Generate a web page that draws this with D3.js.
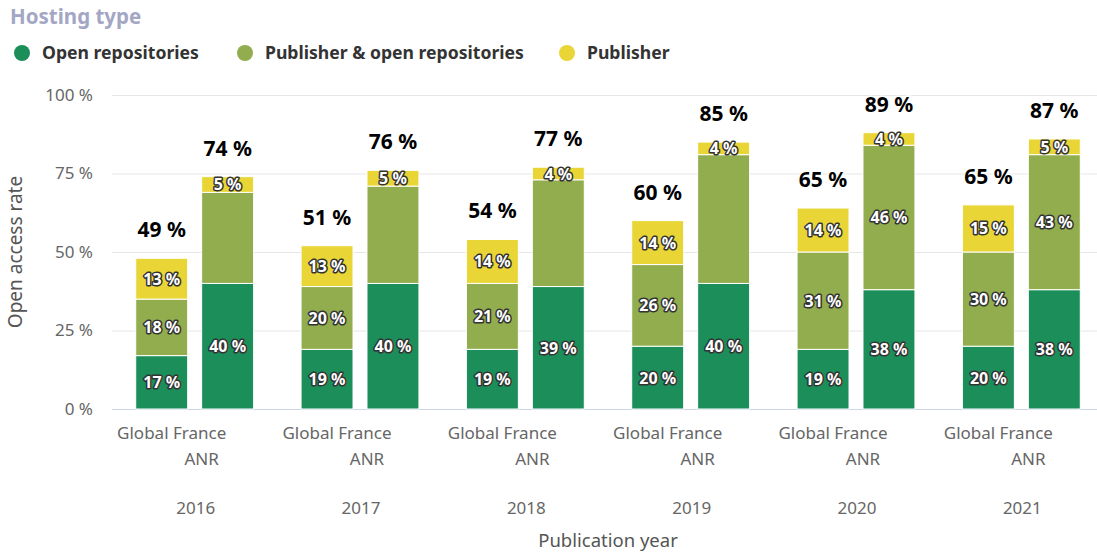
<!DOCTYPE html>
<html>
<head>
<meta charset="utf-8">
<script src="https://cdn.jsdelivr.net/npm/d3@7"></script>
<style>
  body { margin: 0; background: #fff; font-family: "Noto Sans", "Open Sans", sans-serif; }
  .seg-label { font-weight: bold; font-size: 16px; fill: #fff; stroke: #333; stroke-width: 3px; paint-order: stroke; stroke-linejoin: round; }
  .total-label { font-weight: bold; font-size: 21px; fill: #000; stroke: #fff; stroke-width: 3px; paint-order: stroke; }
</style>
</head>
<body>
<svg id="chart" width="1097" height="556"></svg>
<script>
// data
const YEARS = ["2016", "2017", "2018", "2019", "2020", "2021"];
const GROUPS = ["Global France", "ANR"];
const SERIES = ["Open repositories", "Publisher & open repositories", "Publisher"];
const COLORS = ["#1b8e5a", "#91ad4e", "#e9d636"];

const globalOpenRepo   = [17, 19, 19, 20, 19, 20];
const globalPubAndRepo = [18, 20, 21, 26, 31, 30];
const globalPublisher  = [13, 13, 14, 14, 14, 15];
const globalTotals     = [49, 51, 54, 60, 65, 65];

const anrOpenRepo   = [40, 40, 39, 40, 38, 38];
const anrPubAndRepo = [29, 31, 34, 41, 46, 43];
const anrPublisher  = [5, 5, 4, 4, 4, 5];
const anrTotals     = [74, 76, 77, 85, 89, 87];

// segment labels not drawn in the original
const HIDDEN = ["ANR|2016|1", "ANR|2017|1", "ANR|2018|1", "ANR|2019|1"];

const Y_TICKS = [0, 25, 50, 75, 100];

// build rows
const rows = [];
YEARS.forEach((yr, i) => {
  rows.push({ year: yr, group: GROUPS[0], vals: [globalOpenRepo[i], globalPubAndRepo[i], globalPublisher[i]], total: globalTotals[i] });
  rows.push({ year: yr, group: GROUPS[1], vals: [anrOpenRepo[i], anrPubAndRepo[i], anrPublisher[i]], total: anrTotals[i] });
});

const svg = d3.select("#chart");
const margin = { left: 112, top: 95, bottom: 409 };
const plotW = 992;

const x0 = d3.scaleBand().domain(YEARS).range([margin.left, margin.left + plotW])
  .paddingInner(0.287).paddingOuter(0.1435);
const x1 = d3.scaleBand().domain(GROUPS).range([0, x0.bandwidth()])
  .paddingInner(0.212).paddingOuter(0);
const y = d3.scaleLinear().domain([0, 100]).range([margin.bottom, margin.top]);

// title
svg.append("text").attr("x", 10).attr("y", 24)
  .attr("font-size", 20.5).attr("font-weight", "bold").attr("fill", "#a3a6c4")
  .text("Hosting type");

// legend
const legendX = [22, 245, 567];
SERIES.forEach((s, i) => {
  const g = svg.append("g").attr("transform", `translate(${legendX[i]},53)`);
  g.append("circle").attr("r", 8).attr("fill", COLORS[i]);
  g.append("text").attr("x", 20).attr("y", 6).attr("font-size", 17.6).attr("font-weight", "bold")
    .attr("fill", "#333").text(s);
});

// grid + y axis
const yAxis = svg.append("g").attr("transform", `translate(${margin.left},0)`)
  .call(d3.axisLeft(y).tickValues(Y_TICKS).tickSize(-plotW).tickFormat(d => d + " %"));
yAxis.select(".domain").remove();
yAxis.selectAll(".tick line").attr("stroke", "#e6e6e6");
yAxis.selectAll(".tick").filter(d => d === 0).select("line").attr("stroke", "#ccd6eb");
yAxis.selectAll(".tick text").attr("x", -19).attr("fill", "#666").attr("font-size", 17)
  .attr("font-family", "Noto Sans, sans-serif");

svg.append("text").attr("transform", `translate(22,${(margin.top + margin.bottom) / 2}) rotate(-90)`)
  .attr("text-anchor", "middle").attr("font-size", 19).attr("fill", "#555")
  .text("Open access rate");

// bars
const groupsSel = svg.append("g").selectAll("g.bar").data(rows).enter().append("g")
  .attr("transform", d => `translate(${x0(d.year) + x1(d.group)},0)`);

groupsSel.each(function (d) {
  const g = d3.select(this);
  let acc = 0;
  d.vals.forEach((v, i) => {
    const y0 = acc, y1v = acc + v;
    acc = y1v;
    g.append("rect").attr("x", 0).attr("width", x1.bandwidth())
      .attr("y", y(y1v)).attr("height", y(y0) - y(y1v))
      .attr("fill", COLORS[i]).attr("stroke", "#fff").attr("stroke-width", 1);
    if (!HIDDEN.includes(`${d.group}|${d.year}|${i}`)) {
      g.append("text").attr("class", "seg-label")
        .attr("x", x1.bandwidth() / 2).attr("y", (y(y0) + y(y1v)) / 2 + 6)
        .attr("text-anchor", "middle").text(v + " %");
    }
  });
  g.append("text").attr("class", "total-label")
    .attr("x", x1.bandwidth() / 2).attr("y", y(acc) - 21)
    .attr("text-anchor", "middle").text(d.total + " %");
});

// x category labels
YEARS.forEach(yr => {
  const c = x0(yr) + x0.bandwidth() / 2;
  svg.append("text").attr("x", c - 23).attr("y", 439).attr("text-anchor", "middle")
    .attr("font-size", 17).attr("fill", "#666").text(GROUPS[0]);
  svg.append("text").attr("x", c + 7).attr("y", 465).attr("text-anchor", "middle")
    .attr("font-size", 17).attr("fill", "#666").text(GROUPS[1]);
  svg.append("text").attr("x", c + 1).attr("y", 514).attr("text-anchor", "middle")
    .attr("font-size", 17).attr("fill", "#666").text(yr);
});

svg.append("text").attr("x", margin.left + plotW / 2).attr("y", 547).attr("text-anchor", "middle")
  .attr("font-size", 18.5).attr("fill", "#555").text("Publication year");
</script>
</body>
</html>
